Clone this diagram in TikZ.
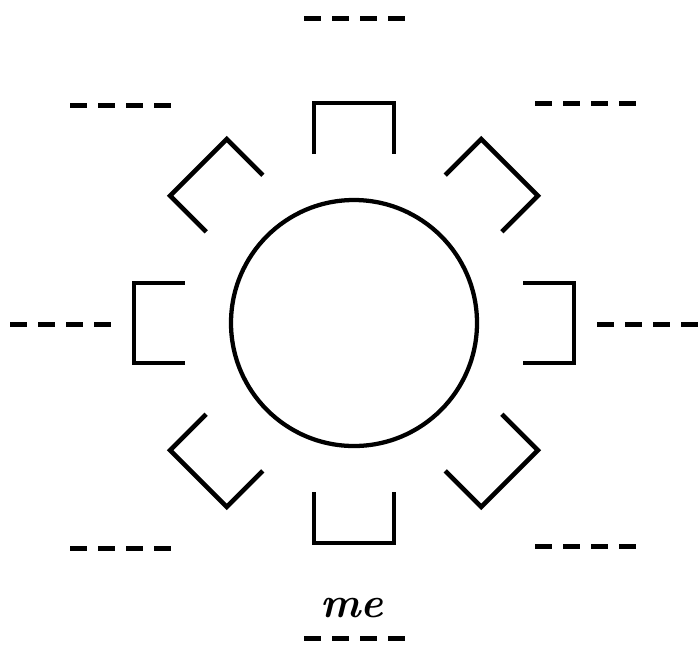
\documentclass[tikz,border=0pt]{standalone}
\usepackage{tikz}
\usetikzlibrary{positioning}

\tikzset{
  chair/.style={line width=3.4pt, miter limit=10},
  blank/.style={line width=3.75pt, dash pattern=on 12.75pt off 8.25pt},
}

\begin{document}
\begin{tikzpicture}[x=0.75pt,y=-0.75pt]
  \useasboundingbox (0,0) rectangle (699,644);

  \coordinate (table) at (354,323);
  \draw[line width=3.2pt] (table) circle[radius=123];

  \foreach \a in {0,45,...,315}{
    \begin{scope}[shift={(table)}, rotate=\a]
      \draw[chair] (169,-40) -- (220,-40) -- (220,40) -- (169,40);
    \end{scope}
  }

  \foreach \x/\y in {304/18, 70/105, 535/103, 10/324, 597/324, 70/548, 535/546, 304/638}{
    \draw[blank] (\x,\y) -- ++(101,0);
  }

  \node[font=\fontsize{32}{32}\selectfont\bfseries\itshape] (me) at (352,608) {me};
\end{tikzpicture}
\end{document}
